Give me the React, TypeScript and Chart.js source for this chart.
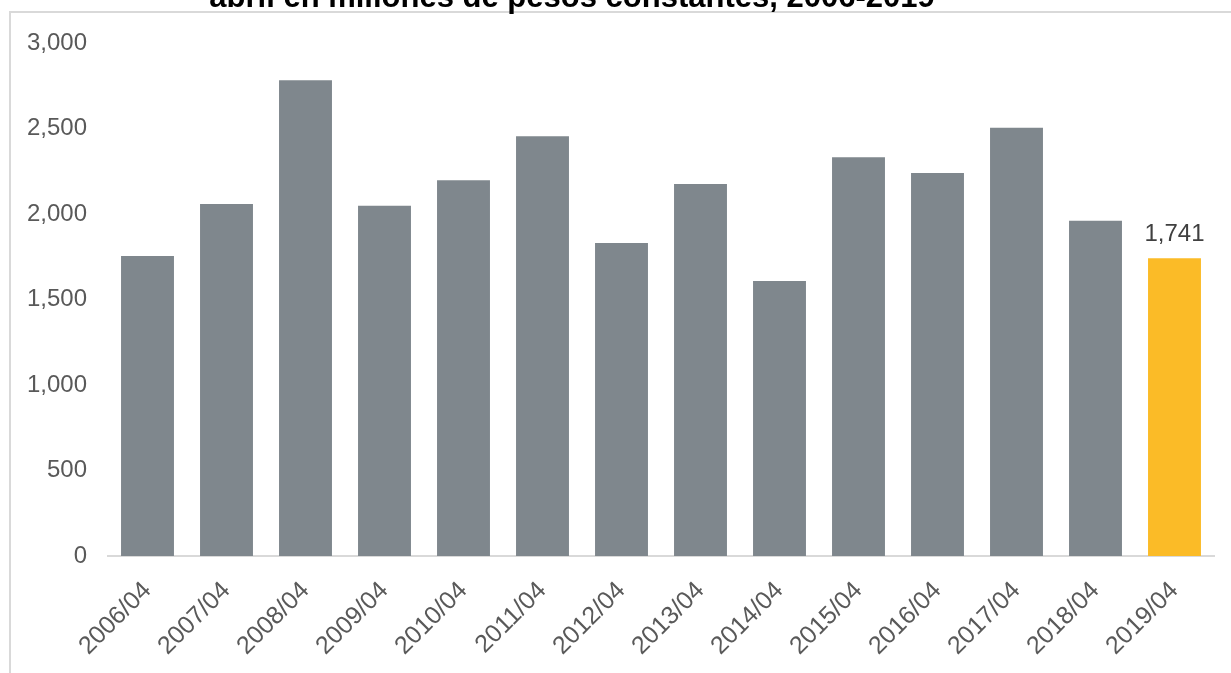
import React, { useEffect, useRef } from "react";
import { Chart, registerables } from "chart.js";

Chart.register(...registerables);

const categories = ["2006/04", "2007/04", "2008/04", "2009/04", "2010/04", "2011/04", "2012/04", "2013/04", "2014/04", "2015/04", "2016/04", "2017/04", "2018/04", "2019/04"];
const values = [1755, 2058, 2782, 2048, 2197, 2455, 1830, 2175, 1608, 2332, 2240, 2505, 1960, 1741];
const highlightIndex = 13;
const yTicks = [0, 500, 1000, 1500, 2000, 2500, 3000];
const titleText = "abril en millones de pesos constantes, 2006-2019";

const GRAY = "#7f878d";
const YELLOW = "#fbbb27";
const FONT = "'Liberation Sans', Arial, sans-serif";

export default function App() {
  const ref = useRef<HTMLCanvasElement | null>(null);

  useEffect(() => {
    if (!ref.current) return;
    const overlay = {
      id: "overlay",
      afterDraw(chart: any) {
        const ctx = chart.ctx;
        ctx.save();
        ctx.font = `bold 31px ${FONT}`;
        ctx.fillStyle = "#000000";
        ctx.textAlign = "center";
        ctx.textBaseline = "alphabetic";
        ctx.fillText(titleText, 572, 7);
        const meta = chart.getDatasetMeta(0);
        const bar = meta.data[highlightIndex];
        ctx.font = `24px ${FONT}`;
        ctx.fillStyle = "#404040";
        ctx.textBaseline = "alphabetic";
        ctx.fillText(values[highlightIndex].toLocaleString("en-US"), bar.x, bar.y - 17);
        ctx.restore();
      },
    };
    const chart = new Chart(ref.current, {
      type: "bar",
      data: {
        labels: categories,
        datasets: [
          {
            data: values,
            backgroundColor: values.map((_, i) => (i === highlightIndex ? YELLOW : GRAY)),
            categoryPercentage: 1,
            barPercentage: 0.67,
          },
        ],
      },
      options: {
        animation: false,
        responsive: false,
        maintainAspectRatio: false,
        layout: { padding: { top: 43, right: 17, left: 0, bottom: 0 } },
        plugins: { legend: { display: false }, tooltip: { enabled: false }, title: { display: false } },
        scales: {
          x: {
            grid: { display: false, drawTicks: false },
            border: { display: true, color: "#d9d9d9", width: 2 },
            ticks: {
              color: "#595959",
              font: { family: FONT, size: 25 },
              minRotation: 45,
              maxRotation: 45,
              padding: 20,
              autoSkip: false,
            },
            afterFit(scale: any) {
              scale.height = 117;
            },
          },
          y: {
            min: 0,
            max: 3000,
            grid: { display: false, drawTicks: false },
            border: { display: false },
            afterBuildTicks(scale: any) {
              scale.ticks = yTicks.map((v) => ({ value: v }));
            },
            ticks: {
              color: "#595959",
              font: { family: FONT, size: 24 },
              padding: 21,
              callback: (v: any) => Number(v).toLocaleString("en-US"),
            },
            afterFit(scale: any) {
              scale.width = 108;
            },
          },
        },
      },
      plugins: [overlay],
    });
    return () => chart.destroy();
  }, []);

  return (
    <div style={{ position: "fixed", left: 0, top: 0, width: 1231, height: 673, overflow: "hidden", background: "#fff" }}>
      <div
        style={{
          position: "absolute",
          left: 9,
          top: 11,
          width: 2000,
          height: 2000,
          borderLeft: "2px solid #d9d9d9",
          borderTop: "2px solid #d9d9d9",
        }}
      />
      <canvas ref={ref} width={1231} height={673} style={{ position: "absolute", left: 0, top: 0, width: 1231, height: 673 }} />
    </div>
  );
}
